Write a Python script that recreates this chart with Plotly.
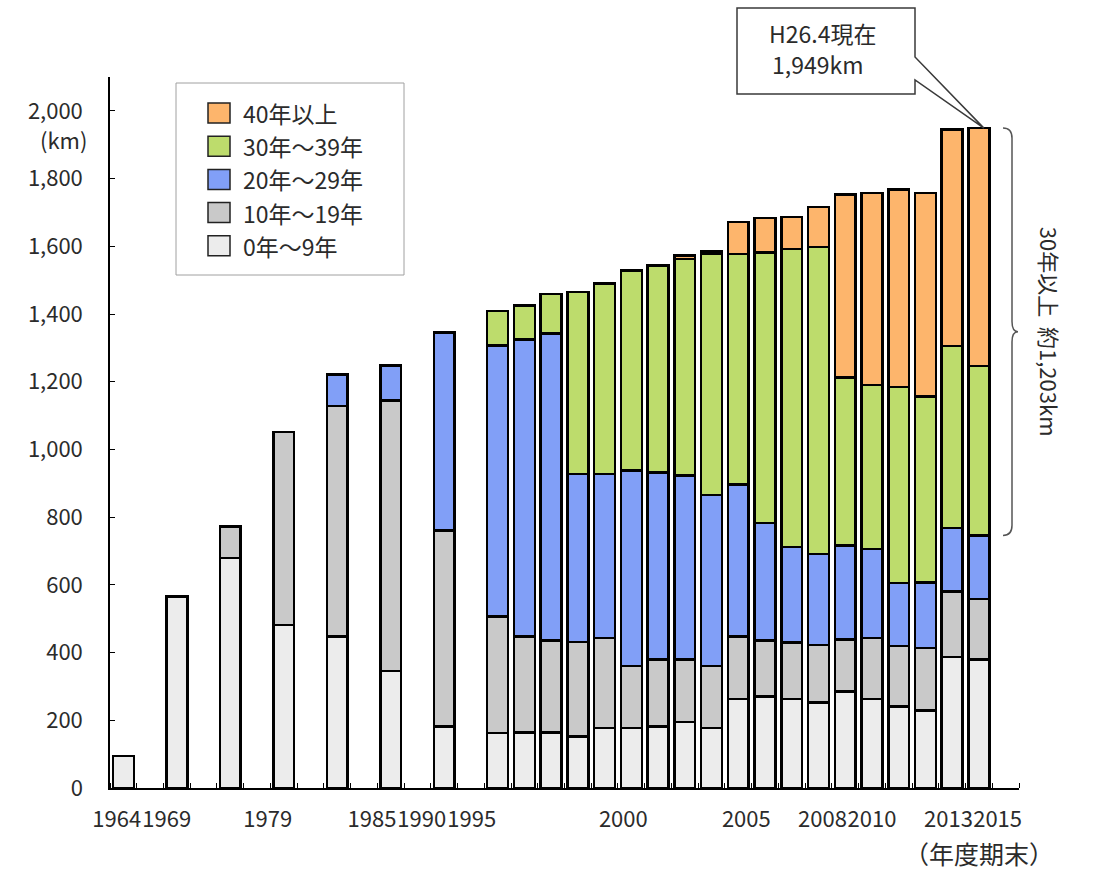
import plotly.graph_objects as go

# ---- data -------------------------------------------------------------
years = [1964, 1969, 1974, 1979, 1982, 1985, 1990,
         1995, 1996, 1997, 1998, 1999, 2000, 2001, 2002, 2003, 2004,
         2005, 2006, 2007, 2008, 2009, 2010, 2011, 2012, 2013]

age_0_9 = [95, 565, 680, 482, 448, 346, 182,
           162, 164, 164, 152, 177, 177, 182, 195, 177, 263,
           271, 263, 253, 285, 263, 241, 229, 387, 379]
age_10_19 = [0, 0, 93, 570, 681, 798, 579,
             345, 284, 271, 279, 266, 184, 197, 184, 184, 185,
             165, 167, 170, 153, 180, 179, 184, 194, 179]
age_20_29 = [0, 0, 0, 0, 92, 104, 584,
             800, 876, 907, 497, 484, 577, 553, 544, 505, 448,
             347, 282, 268, 278, 263, 186, 194, 187, 188]
age_30_39 = [0, 0, 0, 0, 0, 0, 0,
             102, 101, 117, 537, 563, 590, 611, 640, 712, 681,
             799, 880, 907, 497, 485, 578, 550, 537, 500]
age_40_plus = [0, 0, 0, 0, 0, 0, 0,
               0, 0, 0, 0, 0, 0, 0, 10, 8, 95,
               102, 95, 118, 540, 566, 583, 600, 640, 703]

series_names = ["0年～9年", "10年～19年", "20年～29年", "30年～39年", "40年以上"]
series_colors = ["#ececec", "#c9c9c9", "#819ff7", "#bddc6c", "#fdb56c"]

tick_years = [1964, 1969, 1979, 1985, 1990, 1995, 2000, 2005, 2008, 2010, 2013, 2015]
y_ticks = [0, 200, 400, 600, 800, 1000, 1200, 1400, 1600, 1800, 2000]
as_of_label = "H26.4現在"
x_unit_label = "（年度期末）"
y_unit_label = "(km)"
# ----------------------------------------------------------------------

series = [age_0_9, age_10_19, age_20_29, age_30_39, age_40_plus]

W, H = 1101, 881
M_L, M_R, M_T, M_B = 110, 82, 77, 93
PLOT_W = W - M_L - M_R
PLOT_H = H - M_T - M_B
Y_MAX = 2100
N_SLOTS = 34
N_SPARSE = 7          # early survey years, drawn two slots apart
FONT = "Noto Sans CJK JP"
TXT = "#2b2b2b"

# year labels sit slightly left of their bars (in slot units)
label_shift = [-0.25, -0.38, -0.6, -0.7, -0.84, -0.97, -0.3, -0.7, -0.85, -1.0, -1.14, -1.3]


def px_x(p):
    return (p - M_L) / PLOT_W


def px_y(p):
    return (H - M_B - p) / PLOT_H


def slot_of(year):
    if year in years:
        i = years.index(year)
    else:
        i = len(years) - 1 + (year - years[-1])
    return 2 * i if i < N_SPARSE else 2 * N_SPARSE + (i - N_SPARSE)


fig = go.Figure()

xs = [slot_of(y) for y in years]
for name, color, vals in zip(series_names, series_colors, series):
    fig.add_trace(go.Bar(
        x=xs,
        y=[v if v else None for v in vals],
        name=name,
        marker=dict(color=color, line=dict(color="#000000", width=2.5)),
        width=0.78,
        showlegend=False,
        hovertemplate=name + ": %{y}<extra></extra>",
    ))

totals = [sum(s[i] for s in series) for i in range(len(years))]
last_total = totals[-1]
last_30_plus = age_30_39[-1] + age_40_plus[-1]
last_under_30 = last_total - last_30_plus

fig.update_layout(
    barmode="stack",
    width=W, height=H, autosize=False,
    margin=dict(l=M_L, r=M_R, t=M_T, b=M_B),
    paper_bgcolor="white", plot_bgcolor="white",
    font=dict(family=FONT, size=22, color=TXT),
    xaxis=dict(
        range=[-0.5, N_SLOTS - 0.5],
        tickmode="array",
        tickvals=[slot_of(y) + s for y, s in zip(tick_years, label_shift)],
        ticktext=[str(y) for y in tick_years],
        tickangle=0,
        ticks="",
        showline=True, linecolor="#000000", linewidth=1.5,
        showgrid=False, zeroline=False,
        ticklabelstandoff=11,
        tickfont=dict(family=FONT, size=22, color=TXT),
        minor=dict(tickmode="linear", tick0=-0.5, dtick=1,
                   ticks="inside", ticklen=5, tickcolor="#000000", tickwidth=1,
                   showgrid=False),
    ),
    yaxis=dict(
        range=[0, Y_MAX],
        tickmode="array",
        tickvals=y_ticks,
        ticktext=[f"{v:,}" for v in y_ticks],
        ticks="inside", ticklen=5, tickcolor="#000000", tickwidth=1,
        showline=True, linecolor="#000000", linewidth=1.5,
        showgrid=False, zeroline=False,
        ticklabelstandoff=21,
        tickfont=dict(family=FONT, size=22, color=TXT),
    ),
)

shapes = []
annotations = []

# legend box
shapes.append(dict(type="rect", xref="paper", yref="paper",
                   x0=px_x(176), x1=px_x(404), y0=px_y(275), y1=px_y(83),
                   line=dict(color="#a0a0a0", width=1), fillcolor="white", layer="above"))
legend_rows = list(zip(series_names, series_colors))[::-1]
for k, (name, color) in enumerate(legend_rows):
    cy = 113 + k * 33.2
    shapes.append(dict(type="rect", xref="paper", yref="paper",
                       x0=px_x(208), x1=px_x(230), y0=px_y(cy + 10), y1=px_y(cy - 10),
                       line=dict(color="#222222", width=1.5), fillcolor=color, layer="above"))
    annotations.append(dict(xref="paper", yref="paper", x=px_x(241), y=px_y(cy),
                            xanchor="left", yanchor="middle", showarrow=False,
                            text=name, font=dict(family=FONT, size=23, color=TXT)))

# unit labels
annotations.append(dict(xref="paper", yref="paper", x=px_x(89), y=px_y(139),
                        xanchor="right", yanchor="middle", showarrow=False,
                        text=y_unit_label, font=dict(family=FONT, size=22, color=TXT)))
annotations.append(dict(xref="paper", yref="paper", x=px_x(1056), y=px_y(853),
                        xanchor="right", yanchor="middle", showarrow=False,
                        text=x_unit_label, font=dict(family=FONT, size=25, color=TXT)))

# callout pointing at the latest bar
slot_w = PLOT_W / N_SLOTS
tip_x = px_x(M_L + (slot_of(years[-1]) + 0.5) * slot_w + 5)
tip_y = px_y(H - M_B - last_total / Y_MAX * PLOT_H)
bx0, bx1, by0, by1 = px_x(737), px_x(915), px_y(94), px_y(8)
callout = (f"M{bx0},{by1} L{bx1},{by1} L{bx1},{px_y(57)} L{tip_x},{tip_y} "
           f"L{bx1},{px_y(80)} L{bx1},{by0} L{bx0},{by0} Z")
shapes.append(dict(type="path", xref="paper", yref="paper", path=callout,
                   line=dict(color="#3a3a3a", width=1.5), fillcolor="white", layer="above"))
annotations.append(dict(xref="paper", yref="paper", x=px_x(822), y=px_y(33),
                        xanchor="center", yanchor="middle", showarrow=False,
                        text=as_of_label, font=dict(family=FONT, size=23, color=TXT)))
annotations.append(dict(xref="paper", yref="paper", x=px_x(817), y=px_y(64),
                        xanchor="center", yanchor="middle", showarrow=False,
                        text=f"{last_total:,}km", font=dict(family=FONT, size=23, color=TXT)))

# brace spanning the 30+ years portion of the latest bar
x0, x1, x2 = px_x(1003), px_x(1012), px_x(1018)
ytop, ybot = last_total, last_under_30
ymid = (ytop + ybot) / 2
d = 30
brace = (f"M{x0},{ytop} Q{x1},{ytop} {x1},{ytop - d} L{x1},{ymid + d} "
         f"Q{x1},{ymid} {x2},{ymid} Q{x1},{ymid} {x1},{ymid - d} "
         f"L{x1},{ybot + d} Q{x1},{ybot} {x0},{ybot}")
shapes.append(dict(type="path", xref="paper", yref="y", path=brace,
                   line=dict(color="#555555", width=1.5)))
annotations.append(dict(xref="paper", yref="y", x=px_x(1050), y=ymid,
                        xanchor="center", yanchor="middle", showarrow=False,
                        textangle=90,
                        text=f"30年以上  約{last_30_plus:,}km",
                        font=dict(family=FONT, size=22, color=TXT)))

fig.update_layout(shapes=shapes, annotations=annotations)
fig.write_html("out.html")
